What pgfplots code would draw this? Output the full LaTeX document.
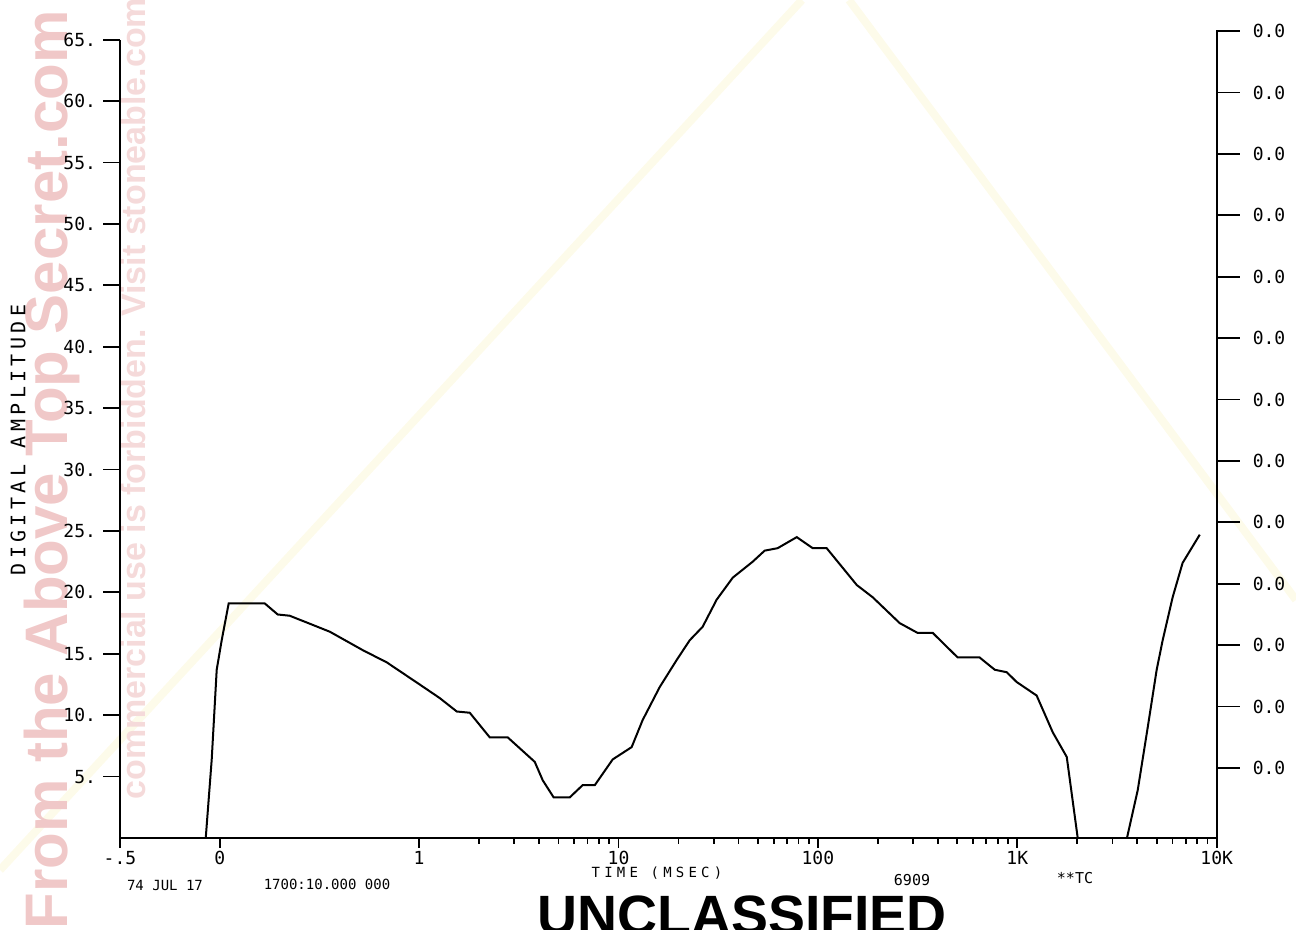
\documentclass[border=0pt]{standalone}
\usepackage{fontspec}
\setmainfont{DejaVu Sans Mono}
\newfontfamily\wmfont{Liberation Sans}
\usepackage{pgfplots}
\pgfplotsset{compat=1.18}
\definecolor{wmpink}{RGB}{240,200,200}
\definecolor{wmpinklight}{RGB}{245,218,218}
\definecolor{wmyellow}{RGB}{253,251,234}

\pgfplotstableread{
x y
-0.070 0
-0.040 6.4
-0.015 13.7
0.010 16.1
0.045 19.1
0.226 19.1
0.291 18.2
0.351 18.1
0.552 16.8
0.717 15.3
0.838 14.3
1.003 12.5
1.103 11.4
1.189 10.3
1.254 10.2
1.304 9.2
1.354 8.2
1.444 8.2
1.580 6.2
1.620 4.7
1.675 3.3
1.755 3.3
1.820 4.3
1.881 4.3
1.971 6.4
2.066 7.4
2.121 9.6
2.207 12.3
2.292 14.5
2.357 16.1
2.422 17.2
2.492 19.4
2.573 21.2
2.673 22.5
2.733 23.4
2.798 23.6
2.894 24.5
2.974 23.6
3.044 23.6
3.195 20.6
3.275 19.6
3.410 17.5
3.500 16.7
3.576 16.7
3.701 14.7
3.811 14.7
3.887 13.7
3.947 13.5
3.997 12.7
4.097 11.6
4.178 8.6
4.248 6.6
4.303 0
}\curveA

\pgfplotstableread{
x y
4.550 0
4.604 3.9
4.654 9.0
4.699 13.7
4.729 16.1
4.779 19.6
4.829 22.4
4.915 24.7
}\curveB

\begin{document}
\begin{tikzpicture}
% scan watermarks (pixel coordinates of the reference)
\begin{scope}[x=0.5pt,y=-0.5pt,shift={(-60pt,419pt)}]
  \draw[wmyellow,line width=4pt] (0,870) -- (802,0);
  \draw[wmyellow,line width=4pt] (849,0) -- (1296,600);
  \node[rotate=90,anchor=base west,inner sep=0pt,text=wmpink,
        font=\wmfont\bfseries\fontsize{30}{30}\selectfont] at (68,930) {From the Above Top Secret.com};
  \node[rotate=90,anchor=base west,inner sep=0pt,text=wmpinklight,
        font=\wmfont\bfseries\fontsize{17}{17}\selectfont] at (145,800) {commercial use is forbidden. Visit stoneable.com};
\end{scope}

\begin{axis}[
  x=99.7pt, y=6.14pt,
  xmin=-0.5, xmax=5, ymin=0, ymax=65,
  axis x line*=bottom, axis y line*=left,
  axis line style={line width=1pt},
  tick align=outside,
  major tick length=8.5pt, minor tick length=3pt,
  xtick style={/pgfplots/major tick length=5pt},
  tick style={black,line width=0.9pt},
  ytick={5,10,15,20,25,30,35,40,45,50,55,60,65},
  yticklabels={5.,10.,15.,20.,25.,30.,35.,40.,45.,50.,55.,60.,65.},
  xtick={-0.5,0,1,2,3,4,5},
  xticklabels={-.5,0,1,10,100,1K,10K},
  minor xtick={1.301,1.477,1.602,1.699,1.778,1.845,1.903,1.954,
               2.301,2.477,2.602,2.699,2.778,2.845,2.903,2.954,
               3.301,3.477,3.602,3.699,3.778,3.845,3.903,3.954,
               4.301,4.477,4.602,4.699,4.778,4.845,4.903,4.954},
  /pgf/number format/assume math mode=true,
  ticklabel style={font=\fontsize{9}{9}\selectfont},
  xticklabel style={yshift=5.5pt},
  clip=false,
]
\addplot[black,line width=1pt] table[x=x,y=y] {\curveA};
\addplot[black,line width=1pt] table[x=x,y=y] {\curveB};
\end{axis}

\begin{axis}[
  x=99.7pt, y=6.14pt,
  xmin=-0.5, xmax=5, ymin=0, ymax=65.8,
  axis y line*=right, axis x line=none,
  axis line style={line width=1pt},
  tick align=outside,
  major tick length=11.5pt,
  tick style={black,line width=0.9pt},
  ytick={5.7,10.7,15.7,20.7,25.7,30.7,35.7,40.7,45.7,50.7,55.7,60.7,65.7},
  yticklabel={0.0},
  /pgf/number format/assume math mode=true,
  yticklabel style={font=\fontsize{9}{9}\selectfont,xshift=3pt},
]
\end{axis}

\begin{scope}[x=0.5pt,y=-0.5pt,shift={(-60pt,419pt)}]
  \node[rotate=90,font=\fontsize{10}{10}\selectfont\addfontfeature{LetterSpace=22}] at (18,440) {DIGITAL AMPLITUDE};
  \node[font=\fontsize{7}{7}\selectfont] at (165,886) {74 JUL 17};
  \node[font=\fontsize{7}{7}\selectfont] at (327,884) {1700:10.000 000};
  \node[font=\fontsize{7}{7}\selectfont\addfontfeature{LetterSpace=30}] at (657,873) {TIME (MSEC)};
  \node[font=\fontsize{7.5}{7.5}\selectfont] at (912,880) {6909};
  \node[font=\fontsize{7.5}{7.5}\selectfont] at (1075,878) {**TC};
  \node[anchor=base west,inner sep=0pt,font=\wmfont\bfseries\fontsize{27.7}{27.7}\selectfont] at (537,935) {UNCLASSIFIED};
\end{scope}

\pgfresetboundingbox
\begin{scope}[x=0.5pt,y=-0.5pt,shift={(-60pt,419pt)}]
  \useasboundingbox (0,0) rectangle (1296,930);
\end{scope}
\end{tikzpicture}
\end{document}
